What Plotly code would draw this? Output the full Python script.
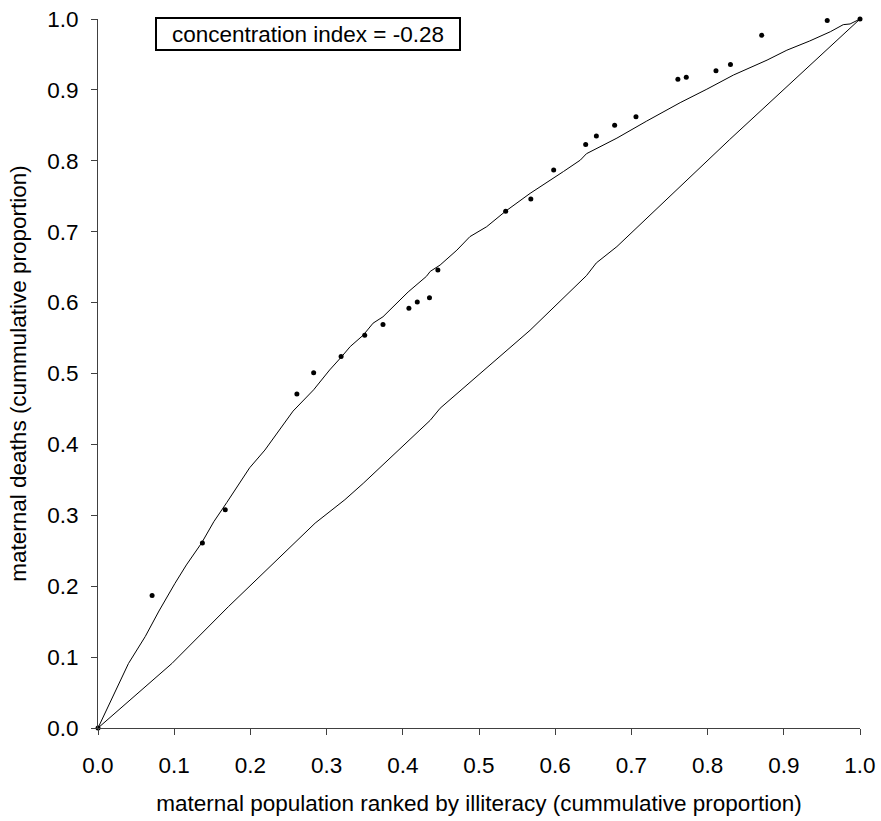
import plotly.graph_objects as go

# Observed data points (cumulative proportions)
pts_x = [0.0, 0.071, 0.137, 0.167, 0.261, 0.283, 0.319, 0.350, 0.374, 0.408, 0.419,
         0.435, 0.446, 0.535, 0.568, 0.598, 0.640, 0.654, 0.678, 0.706, 0.761,
         0.772, 0.811, 0.830, 0.871, 0.957, 1.0]
pts_y = [0.0, 0.187, 0.261, 0.308, 0.471, 0.501, 0.524, 0.554, 0.569, 0.592, 0.601,
         0.607, 0.646, 0.729, 0.746, 0.787, 0.823, 0.835, 0.850, 0.862, 0.915,
         0.918, 0.927, 0.936, 0.977, 0.998, 1.0]

# Concentration curve
curve_x = [0.0, 0.020, 0.040, 0.062, 0.080, 0.101, 0.116, 0.136, 0.152, 0.169, 0.184,
           0.199, 0.219, 0.256, 0.283, 0.304, 0.320, 0.331, 0.348, 0.361, 0.374,
           0.407, 0.431, 0.436, 0.449, 0.471, 0.488, 0.510, 0.535, 0.567, 0.611,
           0.633, 0.641, 0.681, 0.720, 0.764, 0.799, 0.834, 0.878, 0.904, 0.934,
           0.961, 0.978, 0.987, 1.0]
curve_y = [0.0, 0.045, 0.091, 0.129, 0.165, 0.204, 0.230, 0.261, 0.291, 0.318, 0.343,
           0.367, 0.392, 0.447, 0.477, 0.505, 0.524, 0.538, 0.554, 0.571, 0.580,
           0.615, 0.637, 0.644, 0.653, 0.674, 0.693, 0.707, 0.729, 0.754, 0.785,
           0.801, 0.810, 0.832, 0.856, 0.882, 0.901, 0.921, 0.942, 0.956, 0.969,
           0.982, 0.992, 0.993, 1.0]

# Line of (near) equality
eq_x = [0.0, 0.097, 0.171, 0.285, 0.324, 0.348, 0.436, 0.449, 0.567, 0.641, 0.654,
        0.681, 0.829, 1.0]
eq_y = [0.0, 0.091, 0.171, 0.289, 0.322, 0.345, 0.434, 0.451, 0.561, 0.638, 0.656,
        0.679, 0.830, 1.0]

tick_vals = [i / 10 for i in range(11)]
tick_text = [f"{v:.1f}" for v in tick_vals]

FONT = "Liberation Sans, Arial, sans-serif"
FS = 22.5

fig = go.Figure()
fig.add_trace(go.Scatter(x=eq_x, y=eq_y, mode="lines",
                         line=dict(color="black", width=1), showlegend=False,
                         cliponaxis=False))
fig.add_trace(go.Scatter(x=curve_x, y=curve_y, mode="lines",
                         line=dict(color="black", width=1), showlegend=False,
                         cliponaxis=False))
fig.add_trace(go.Scatter(x=pts_x, y=pts_y, mode="markers",
                         marker=dict(color="black", size=5), showlegend=False,
                         cliponaxis=False))

axis_common = dict(
    range=[0, 1], tickvals=tick_vals, ticktext=tick_text, automargin=False,
    showgrid=False, zeroline=False, showline=True, linecolor="#404040", linewidth=1,
    ticks="outside", ticklen=6, tickcolor="#404040", tickwidth=1,
    tickfont=dict(family=FONT, size=FS, color="black"),
)

fig.update_layout(
    width=881, height=821,
    margin=dict(l=98, r=21, t=19, b=93),
    paper_bgcolor="white", plot_bgcolor="white",
    font=dict(family=FONT, size=FS, color="black"),
    xaxis=dict(**axis_common, ticklabelstandoff=11,
               title=dict(text="maternal population ranked by illiteracy (cummulative proportion)",
                          font=dict(family=FONT, size=FS, color="black"), standoff=18)),
    yaxis=dict(**axis_common, ticklabelstandoff=8,
               title=dict(text="maternal deaths (cummulative proportion)",
                          font=dict(family=FONT, size=FS, color="black"), standoff=14)),
    annotations=[dict(
        text="concentration index = -0.28", xref="paper", yref="paper",
        x=0.0748, y=1.003, xanchor="left", yanchor="top", showarrow=False,
        font=dict(family=FONT, size=FS, color="black"),
        bordercolor="black", borderwidth=2, borderpad=1, bgcolor="white",
        width=300, height=28, align="center",
    )],
)

fig.write_html("out.html")
